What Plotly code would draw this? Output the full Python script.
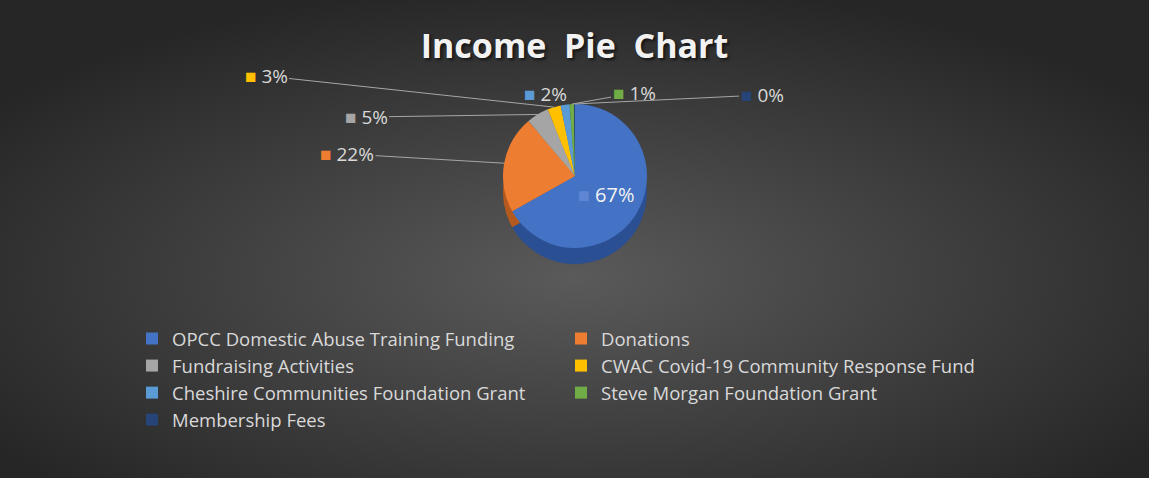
import base64
import math
import plotly.graph_objects as go

# ---------------- data ----------------
categories = [
    "OPCC Domestic Abuse Training Funding",
    "Donations",
    "Fundraising Activities",
    "CWAC Covid-19 Community Response Fund",
    "Cheshire Communities Foundation Grant",
    "Steve Morgan Foundation Grant",
    "Membership Fees",
]
values = [67, 22, 5, 3, 2, 1, 0.2]
colors = ["#4472C4", "#ED7D31", "#A5A5A5", "#FFC000", "#5B9BD5", "#70AD47", "#264478"]
side_colors = ["#2B4F93", "#B55A1E", "#7A7A7A", "#BF9000", "#3F77A8", "#507E33", "#18305A"]

# ---------------- geometry / style ----------------
W, H = 1149, 478
cx, cy, r = 575, 176, 72          # pie centre and radius (pixels)
depth = 16                         # fake 3-D thickness

def dom(cyy):
    return dict(x=[(cx - r) / W, (cx + r) / W], y=[1 - (cyy + r) / H, 1 - (cyy - r) / H])

# background radial gradient as an SVG data uri
svg = (
    f'<svg xmlns="http://www.w3.org/2000/svg" width="{W}" height="{H}" preserveAspectRatio="none">'
    '<defs><radialGradient id="g" cx="50%" cy="58%" r="62%">'
    '<stop offset="0" stop-color="#5a5a5a"/><stop offset="1" stop-color="#262626"/>'
    '</radialGradient></defs><rect width="100%" height="100%" fill="url(#g)"/></svg>'
)
bg_src = "data:image/svg+xml;base64," + base64.b64encode(svg.encode()).decode()

FONT = "Open Sans"
TXT = "#d9d9d9"

total = sum(values)
pct = [v / total * 100 for v in values]

texttemplate = ['<span style="color:#5F86D4">■</span> %{percent:.0%}'] + [""] * (len(values) - 1)
textposition = ["inside"] + ["none"] * (len(values) - 1)

fig = go.Figure()
# side (depth) of the disc
fig.add_trace(go.Pie(
    labels=categories, values=values, sort=False, direction="clockwise", rotation=0,
    marker=dict(colors=side_colors, line=dict(width=0)), textinfo="none",
    hoverinfo="skip", showlegend=False, domain=dom(cy + depth),
))
# top face
fig.add_trace(go.Pie(
    labels=categories, values=values, sort=False, direction="clockwise", rotation=0,
    marker=dict(colors=colors, line=dict(width=0)),
    texttemplate=texttemplate, textposition=textposition,
    insidetextorientation="horizontal",
    insidetextfont=dict(family=FONT, size=20, color="#f2f2f2"),
    hovertemplate="%{label}: %{percent:.0%}<extra></extra>",
    domain=dom(cy),
))

# outside labels with leader lines (label box centres, pixels)
label_pos = {1: (347, 154), 2: (366, 117), 3: (266, 76), 4: (545, 94), 5: (634, 93), 6: (762, 95)}
annotations = []
cum = 0.0
for i, v in enumerate(values):
    frac0 = cum / total
    cum += v
    frac1 = cum / total
    if i in label_pos:
        mid = (frac0 + frac1) / 2 * 2 * math.pi
        px = cx + r * math.sin(mid)
        py = cy - r * math.cos(mid)
        lx, ly = label_pos[i]
        annotations.append(dict(
            x=px / W, y=1 - py / H, xref="paper", yref="paper",
            ax=lx - px, ay=ly - py, axref="pixel", ayref="pixel",
            text=f'<span style="color:{colors[i]}">■</span> {pct[i]:.0f}%',
            showarrow=True, arrowhead=0, arrowwidth=1, arrowcolor="#a6a6a6", standoff=0,
            font=dict(family=FONT, size=19, color=TXT),
        ))

fig.update_layout(
    width=W, height=H,
    margin=dict(l=0, r=0, t=0, b=0, autoexpand=False),
    paper_bgcolor="#3a3a3a",
    images=[dict(source=bg_src, xref="paper", yref="paper", x=0, y=1, sizex=1, sizey=1,
                 xanchor="left", yanchor="top", sizing="stretch", layer="below")],
    title=dict(text="<b>Income\u00a0 Pie\u00a0 Chart</b>", x=0.5, xanchor="center",
               y=1 - 46 / H, yanchor="middle", yref="container",
               font=dict(family=FONT, size=34, color="#f2f2f2",
                         shadow="2px 2px 3px rgba(0,0,0,0.6)")),
    legend=dict(orientation="h", xref="paper", yref="paper",
                x=132 / W, xanchor="left", y=1 - 320 / H, yanchor="top",
                entrywidth=384, entrywidthmode="pixels",
                font=dict(family=FONT, size=18.5, color=TXT),
                bgcolor="rgba(0,0,0,0)", traceorder="normal"),
    annotations=annotations,
)

fig.write_html("out.html", config={"displayModeBar": False},
               post_script="document.body.style.margin='0';")
